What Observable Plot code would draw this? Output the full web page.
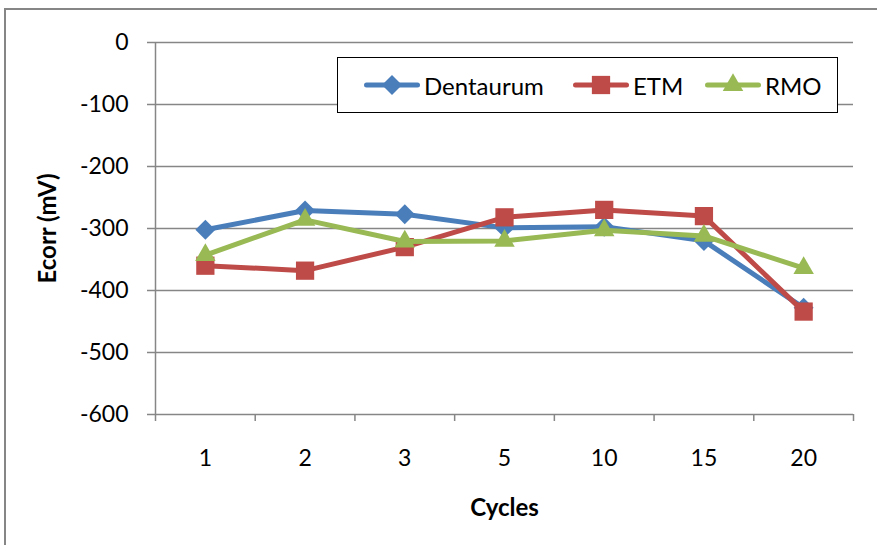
<!DOCTYPE html>
<html>
<head>
<meta charset="utf-8">
<script src="https://cdn.jsdelivr.net/npm/d3@7"></script>
<script src="https://cdn.jsdelivr.net/npm/@observablehq/plot@0.6"></script>
<style>
  html, body { margin: 0; padding: 0; background: #fff; }
  #wrap { position: relative; width: 877px; height: 545px; overflow: hidden; font-family: Lato, "Open Sans", sans-serif; }
  #frame { position: absolute; left: 4px; top: 8px; width: 1000px; height: 1000px; border-left: 2px solid #868686; border-top: 2px solid #868686; }
  #chart { position: absolute; left: 0; top: 0; }
  #legend { position: absolute; left: 337px; top: 57px; width: 499px; height: 54px; border: 1.5px solid #000; background: #fff; }
  .item { position: absolute; top: 0; height: 54px; display: flex; align-items: center; font-size: 24px; color: #000; }
  .item svg { display: block; }
  .item span { margin-left: 4px; }
</style>
</head>
<body>
<div id="wrap">
  <div id="frame"></div>
  <div id="chart"></div>
  <div id="legend"></div>
</div>
<script>
// ---- data ----
const categories = ["1", "2", "3", "5", "10", "15", "20"];
const seriesNames = ["Dentaurum", "ETM", "RMO"];
const dentaurum = [-302, -271, -277, -299, -297, -320, -428];
const etm = [-360, -368, -330, -282, -270, -280, -434];
const rmo = [-343, -286, -321, -320, -303, -312, -364];
const yTicks = [0, -100, -200, -300, -400, -500, -600];
const xTitle = "Cycles";
const yTitle = "Ecorr (mV)";

// ---- styles ----
const colors = ["#4A7EBB", "#BE4B48", "#98B954"];
const symbols = ["diamond2", "square", "triangle"];
const radii = [9, 10.3, 7.6];

const values = [dentaurum, etm, rmo];
const rows = seriesNames.map((name, s) =>
  categories.map((c, i) => ({series: name, i, cat: c, v: values[s][i]}))
);
const idx = categories.map((c, i) => i);
const bounds = d3.range(categories.length + 1).map(i => i - 0.5);

const seriesMarks = [];
rows.forEach((data, s) => {
  seriesMarks.push(Plot.line(data, {x: "i", y: "v", stroke: colors[s], strokeWidth: 5, strokeLinejoin: "round", strokeLinecap: "round"}));
  seriesMarks.push(Plot.dot(data, {x: "i", y: "v", symbol: symbols[s], r: radii[s], fill: colors[s], stroke: "none"}));
});

const grid = "#868686";
const chart = Plot.plot({
  width: 877,
  height: 545,
  marginLeft: 155,
  marginRight: 24,
  marginTop: 42,
  marginBottom: 131,
  style: {fontFamily: "Lato, 'Open Sans', sans-serif", fontSize: "23px", color: "#000", background: "transparent", overflow: "visible"},
  x: {domain: [bounds[0], bounds[bounds.length - 1]]},
  y: {domain: [d3.min(yTicks), d3.max(yTicks)]},
  marks: [
    Plot.gridY({ticks: yTicks, stroke: grid, strokeOpacity: 1, strokeWidth: 1.5}),
    Plot.ruleX([bounds[0]], {stroke: grid, strokeWidth: 1.5}),
    Plot.axisY({ticks: yTicks, tickSize: 8, tickPadding: 19, tickFormat: d => String(d), stroke: grid, strokeWidth: 1.5, label: null, fill: "#000", fontSize: 23}),
    Plot.axisX({ticks: bounds, tickSize: 7, tickFormat: () => "", stroke: grid, strokeWidth: 1.5, label: null}),
    Plot.axisX({ticks: idx, tickSize: 0, tickPadding: 35, tickFormat: i => categories[i], label: null, fill: "#000", fontSize: 23}),
    ...seriesMarks,
    Plot.text([xTitle], {text: d => d, frameAnchor: "bottom", dy: 94, lineAnchor: "middle", textAnchor: "middle", fontWeight: "bold", fontSize: 24, fill: "#000"}),
    Plot.text([yTitle], {text: d => d, frameAnchor: "left", dx: -107, rotate: -90, lineAnchor: "middle", textAnchor: "middle", fontWeight: "bold", fontSize: 24, fill: "#000"})
  ]
});
document.getElementById("chart").appendChild(chart);

// ---- legend ----
const legend = document.getElementById("legend");
const itemLeft = [26, 235, 367];
seriesNames.forEach((name, s) => {
  const item = document.createElement("div");
  item.className = "item";
  item.style.left = itemLeft[s] + "px";
  const sym = d3.symbol(d3["symbol" + ({diamond2: "Diamond2", square: "Square", triangle: "Triangle"})[symbols[s]]], Math.PI * radii[s] * radii[s])();
  item.innerHTML = `<svg width="56" height="24" viewBox="0 0 56 24">
    <line x1="2.5" y1="12" x2="53.5" y2="12" stroke="${colors[s]}" stroke-width="5" stroke-linecap="round"/>
    <path d="${sym}" transform="translate(28,12)" fill="${colors[s]}"/>
  </svg><span>${name}</span>`;
  legend.appendChild(item);
});
</script>
</body>
</html>
